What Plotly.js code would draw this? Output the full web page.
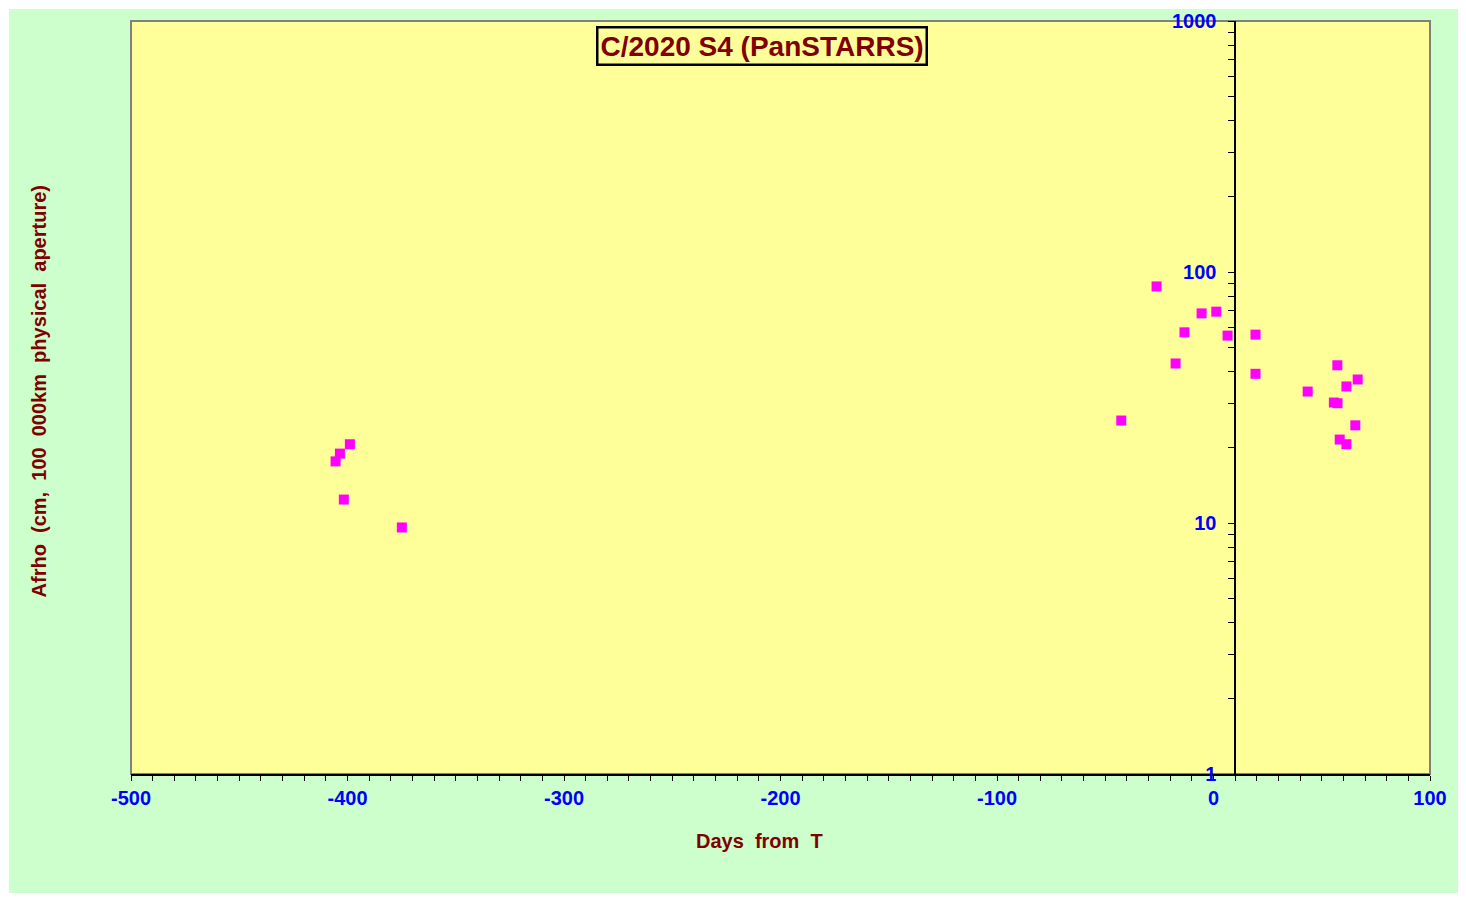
<!DOCTYPE html>
<html>
<head>
<meta charset="utf-8">
<script src="https://cdn.plot.ly/plotly-3.0.1.min.js"></script>
<style>
  html, body { margin: 0; padding: 0; background: #ffffff; }
  #chart { position: absolute; left: 9px; top: 9px; width: 1449px; height: 884px; }
</style>
</head>
<body>
<div id="chart"></div>
<script>
// Data: days from perihelion (T) and Afrho (cm)
const days = [-398.9, -403.5, -405.5, -401.7, -374.9,
  -42.6, -26.3, -17.5, -13.4, -5.5, 1.3, 6.5,
  19.4, 19.4, 43.5, 55.6, 57.3, 57.2, 61.4, 66.6, 65.5, 58.3, 61.4];
const afrho = [20.6, 18.9, 17.6, 12.4, 9.6,
  25.6, 87.6, 43.2, 57.5, 68.4, 69.5, 55.8,
  56.3, 39.3, 33.4, 30.2, 30.0, 42.5, 35.0, 37.3, 24.5, 21.5, 20.6];

const titleText = "C/2020 S4 (PanSTARRS)";
const xTitle = "Days\u00A0 from\u00A0 T";
const yTitle = "Afrho\u00A0 (cm,\u00A0 100\u00A0 000km\u00A0 physical\u00A0 aperture)";

// ticks
const xTickVals = [];
const xTickText = [];
for (let v = -500; v <= 100; v += 10) {
  xTickVals.push(v);
  xTickText.push(v % 100 === 0 ? String(v) : "");
}
const yTickVals = [];
const yTickText = [];
[1, 10, 100].forEach(d => {
  for (let k = 1; k <= 9; k++) {
    yTickVals.push(k * d);
    yTickText.push(k === 1 ? String(d) : "");
  }
});
yTickVals.push(1000); yTickText.push("1000");

const trace = {
  x: days, y: afrho, type: 'scatter', mode: 'markers',
  marker: { symbol: 'square', size: 10, color: '#FF00FF', line: { width: 0 } },
  hoverinfo: 'x+y'
};

const tickFont = { family: 'Arial, Liberation Sans, sans-serif', size: 20, color: '#0000FF', weight: 'bold' };
const titleFont = { family: 'Arial, Liberation Sans, sans-serif', size: 20, color: '#800000', weight: 'bold' };

const layout = {
  width: 1449, height: 884,
  paper_bgcolor: '#CCFFCC',
  plot_bgcolor: '#FFFF99',
  margin: { l: 122, r: 28, t: 12, b: 119, pad: 0 },
  showlegend: false,
  xaxis: {
    type: 'linear', range: [-500, 100], autorange: false,
    showgrid: false, zeroline: false,
    showline: true, linecolor: '#000000', linewidth: 2,
    ticks: 'outside', ticklen: 5, tickwidth: 1, tickcolor: '#000000',
    tickmode: 'array', tickvals: xTickVals, ticktext: xTickText,
    tickfont: tickFont, ticklabelstandoff: 0
  },
  yaxis: {
    type: 'log', range: [0, 3], autorange: false,
    anchor: 'free', position: 0.85, side: 'left',
    showgrid: false, zeroline: false,
    showline: true, linecolor: '#000000', linewidth: 1.5,
    ticks: 'outside', ticklen: 6, tickwidth: 1, tickcolor: '#000000',
    tickmode: 'array', tickvals: yTickVals, ticktext: yTickText,
    tickfont: tickFont, ticklabelstandoff: 8
  },
  shapes: [
    { type: 'rect', xref: 'paper', yref: 'paper', x0: 0, x1: 1, y0: 0, y1: 1,
      line: { color: '#808080', width: 2 }, layer: 'below' }
  ],
  annotations: [
    { text: titleText, xref: 'paper', yref: 'paper', x: 0.486, y: 0.967,
      xanchor: 'center', yanchor: 'middle', showarrow: false,
      font: { family: 'Arial, Liberation Sans, sans-serif', size: 28, color: '#800000', weight: 'bold' },
      bgcolor: '#FFFF99', bordercolor: '#000000', borderwidth: 2.5, borderpad: 2 },
    { text: xTitle, xref: 'paper', yref: 'paper', x: 0.4835, y: -0.089,
      xanchor: 'center', yanchor: 'middle', showarrow: false, font: titleFont },
    { text: yTitle, xref: 'paper', yref: 'paper', x: -0.0701, y: 0.508,
      xanchor: 'center', yanchor: 'middle', showarrow: false, textangle: -90, font: titleFont }
  ]
};

Plotly.newPlot('chart', [trace], layout, { displayModeBar: false, staticPlot: false });
</script>
</body>
</html>
